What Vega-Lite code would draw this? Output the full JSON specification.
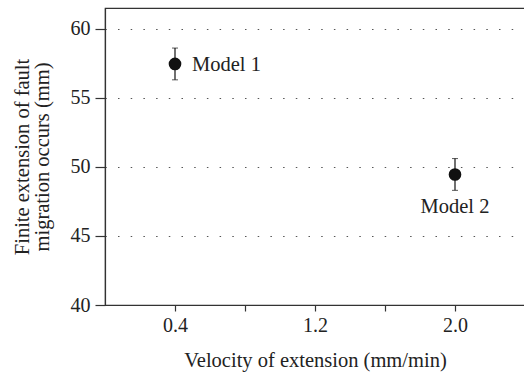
{
  "$schema": "https://vega.github.io/schema/vega-lite/v6.json",
  "autosize": "none",
  "padding": {"left": 105, "top": 8, "right": 0, "bottom": 72},
  "width": 420,
  "height": 297,
  "background": "white",
  "config": {
    "font": "Liberation Serif",
    "view": {"stroke": "#333333", "strokeWidth": 1.2},
    "axis": {
      "domainColor": "#333333",
      "domainWidth": 1.2,
      "tickColor": "#333333",
      "tickWidth": 1.2,
      "labelColor": "#222222",
      "titleColor": "#222222",
      "labelFont": "Liberation Serif",
      "titleFont": "Liberation Serif",
      "labelFontSize": 20,
      "titleFontSize": 20.5,
      "titleFontWeight": "normal"
    }
  },
  "data": {
    "values": [
      {"velocity": 0.4, "extension": 57.45, "low": 56.3, "high": 58.6, "model": "Model 1"},
      {"velocity": 2.0, "extension": 49.45, "low": 48.3, "high": 50.6, "model": "Model 2"}
    ]
  },
  "encoding": {
    "x": {
      "field": "velocity",
      "type": "quantitative",
      "scale": {"domain": [0, 2.4], "nice": false, "zero": false},
      "axis": {
        "title": "Velocity of extension (mm/min)",
        "values": [0.4, 0.8, 1.2, 1.6, 2.0],
        "labelExpr": "(datum.value > 0.7 && datum.value < 0.9) || (datum.value > 1.5 && datum.value < 1.7) ? '' : format(datum.value, '.1f')",
        "grid": false,
        "tickSize": 6,
        "labelPadding": 4,
        "titlePadding": 15
      }
    }
  },
  "layer": [
    {
      "mark": {"type": "errorbar", "ticks": {"size": 6, "color": "#111111"}, "rule": {"color": "#111111", "strokeWidth": 1.2}},
      "encoding": {
        "y": {
          "field": "low",
          "type": "quantitative",
          "scale": {"domain": [40, 61.5], "nice": false, "zero": false},
          "axis": {
            "title": ["Finite extension of fault", "migration occurs (mm)"],
            "values": [40, 45, 50, 55, 60],
            "grid": true,
            "gridColor": "#555555",
            "gridWidth": 1.2,
            "gridDash": [1.5, 11.2],
            "gridDashOffset": 0.2,
            "tickSize": 10,
            "labelPadding": 5,
            "titlePadding": 18,
            "titleLineHeight": 20
          }
        },
        "y2": {"field": "high"}
      }
    },
    {
      "mark": {"type": "point", "filled": true, "size": 160, "color": "#111111", "opacity": 1},
      "encoding": {"y": {"field": "extension", "type": "quantitative"}}
    },
    {
      "transform": [{"filter": "datum.model == 'Model 1'"}],
      "mark": {"type": "text", "align": "left", "baseline": "middle", "dx": 17, "dy": 1, "fontSize": 20.5, "color": "#222222"},
      "encoding": {"y": {"field": "extension", "type": "quantitative"}, "text": {"field": "model"}}
    },
    {
      "transform": [{"filter": "datum.model == 'Model 2'"}],
      "mark": {"type": "text", "align": "center", "baseline": "middle", "dy": 33, "fontSize": 20.5, "color": "#222222"},
      "encoding": {"y": {"field": "extension", "type": "quantitative"}, "text": {"field": "model"}}
    }
  ]
}
